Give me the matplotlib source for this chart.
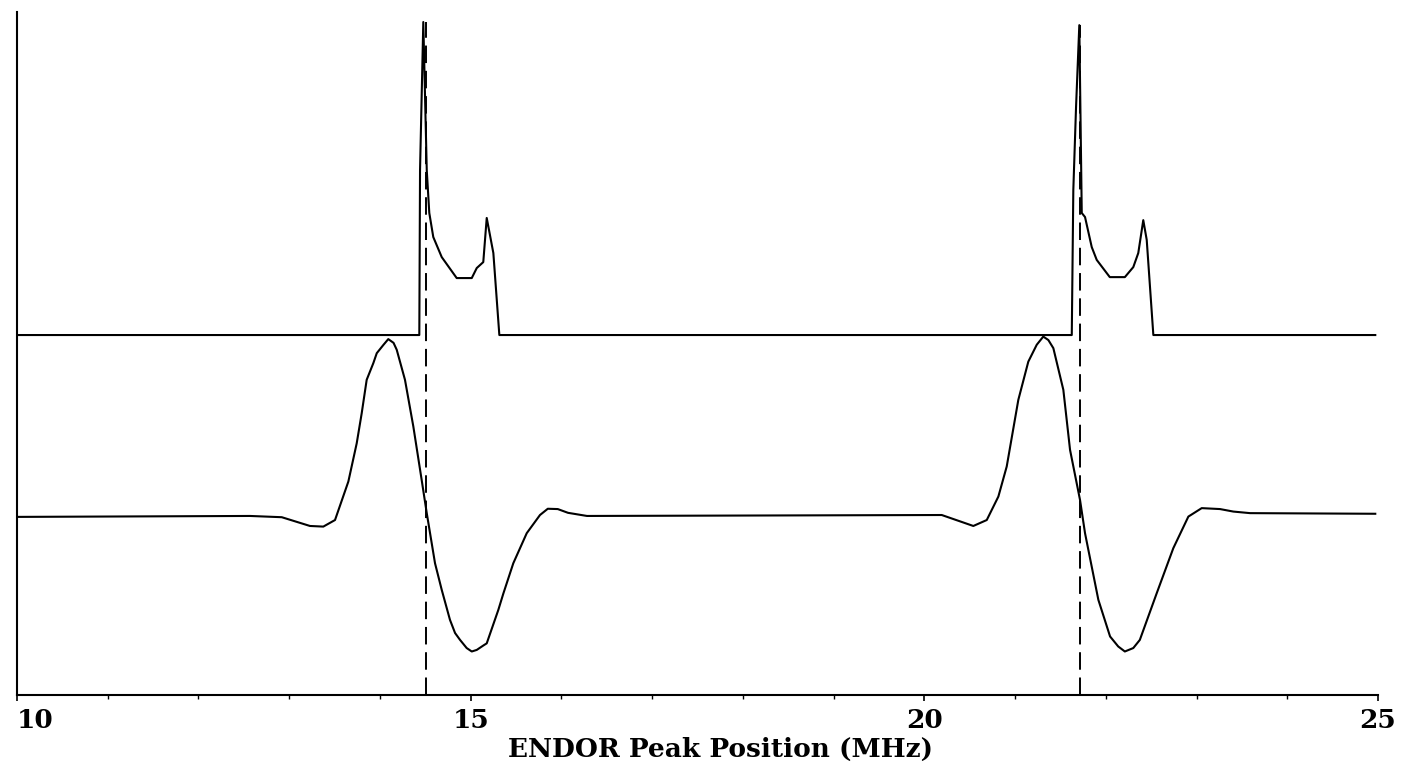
import matplotlib
matplotlib.use("Agg")
import matplotlib.pyplot as plt
from matplotlib.ticker import MultipleLocator

# --- Data (MHz, arbitrary intensity) ---
# absorption-like powder pattern (upper trace), baseline = 0, main peak = 1
top_x = [10.0, 14.434, 14.442, 14.478, 14.516, 14.544, 14.588, 14.681, 14.846,
         15.012, 15.067, 15.139, 15.177, 15.250, 15.316,
         21.625, 21.642, 21.672, 21.708, 21.735, 21.771, 21.845, 21.900,
         22.044, 22.210, 22.303, 22.358, 22.413, 22.451, 22.524, 24.97]
top_y = [0.0, 0.0, 0.527, 1.0, 0.527, 0.390, 0.313, 0.249, 0.182,
         0.182, 0.214, 0.233, 0.374, 0.262, 0.0,
         0.0, 0.463, 0.728, 0.990, 0.390, 0.377, 0.281, 0.240,
         0.185, 0.185, 0.217, 0.262, 0.367, 0.304, 0.0, 0.0]

# first-derivative ENDOR spectrum (lower trace), relative to its own baseline
bot_x = [10.0, 12.568, 12.918, 13.229, 13.376, 13.505, 13.652, 13.744, 13.799,
         13.854, 13.927, 13.965, 14.037, 14.092, 14.150, 14.185, 14.276, 14.368,
         14.460, 14.516, 14.607, 14.681, 14.772, 14.828, 14.883, 14.956, 15.012,
         15.067, 15.139, 15.177, 15.305, 15.360, 15.470, 15.618, 15.764, 15.850,
         15.960, 16.073, 16.282,
         20.192, 20.540, 20.688, 20.816, 20.908, 21.036, 21.146, 21.239, 21.311,
         21.367, 21.422, 21.532, 21.606, 21.716, 21.771, 21.918, 22.047, 22.137,
         22.210, 22.303, 22.375, 22.561, 22.744, 22.910, 23.057, 23.259, 23.406,
         23.590, 24.97]
bot_y = [0.0, 0.003, -0.001, -0.029, -0.031, -0.010, 0.113, 0.235, 0.331,
         0.438, 0.491, 0.523, 0.549, 0.568, 0.556, 0.534, 0.438, 0.289,
         0.118, 0.012, -0.148, -0.233, -0.329, -0.371, -0.393, -0.419, -0.430,
         -0.425, -0.411, -0.404, -0.297, -0.245, -0.148, -0.052, 0.006, 0.026,
         0.025, 0.013, 0.003,
         0.006, -0.029, -0.010, 0.065, 0.161, 0.374, 0.496, 0.550, 0.576,
         0.565, 0.539, 0.406, 0.214, 0.054, -0.052, -0.265, -0.382, -0.414,
         -0.430, -0.419, -0.393, -0.244, -0.100, 0.001, 0.028, 0.025, 0.017,
         0.012, 0.010]

# peak positions marked with dashed lines
dash_x = [14.505, 21.716]
dash_top = [1.0, 0.99]

tick_vals = [10, 15, 20, 25]
tick_labels = ["10", "15", "20", "25"]

# --- Layout / style ---
bot_offset = -0.581
y_lo, y_hi = -1.150, 1.032
font = {"family": "DejaVu Serif", "weight": "bold", "size": 19}

fig = plt.figure(figsize=(14.03, 7.68), dpi=100)
ax = fig.add_axes([17 / 1403, 73 / 768, 1361 / 1403, 683 / 768])

ax.plot(top_x, top_y, color="black", lw=1.5)
ax.plot(bot_x, [v + bot_offset for v in bot_y], color="black", lw=1.5)
ax.vlines(dash_x, y_lo, dash_top, colors="black", lw=1.4,
          linestyles=(0, (9, 4)))

ax.set_xlim(10, 25)
ax.set_ylim(y_lo, y_hi)

ax.spines["top"].set_visible(False)
ax.spines["right"].set_visible(False)
ax.spines["left"].set_linewidth(1.5)
ax.spines["bottom"].set_linewidth(1.5)

ax.set_yticks([])
ax.set_xticks(tick_vals)
ax.set_xticklabels(tick_labels, fontdict=font)
ax.xaxis.set_minor_locator(MultipleLocator(1))
ax.tick_params(axis="x", which="major", direction="out", length=4, width=1.2, pad=5)
ax.tick_params(axis="x", which="minor", direction="out", length=3, width=1.0)
ax.get_xticklabels()[0].set_horizontalalignment("left")

ax.set_xlabel("ENDOR Peak Position (MHz)", fontdict=font)
ax.xaxis.set_label_coords(0.517, -0.062)

fig.savefig("out.png", dpi=100)
